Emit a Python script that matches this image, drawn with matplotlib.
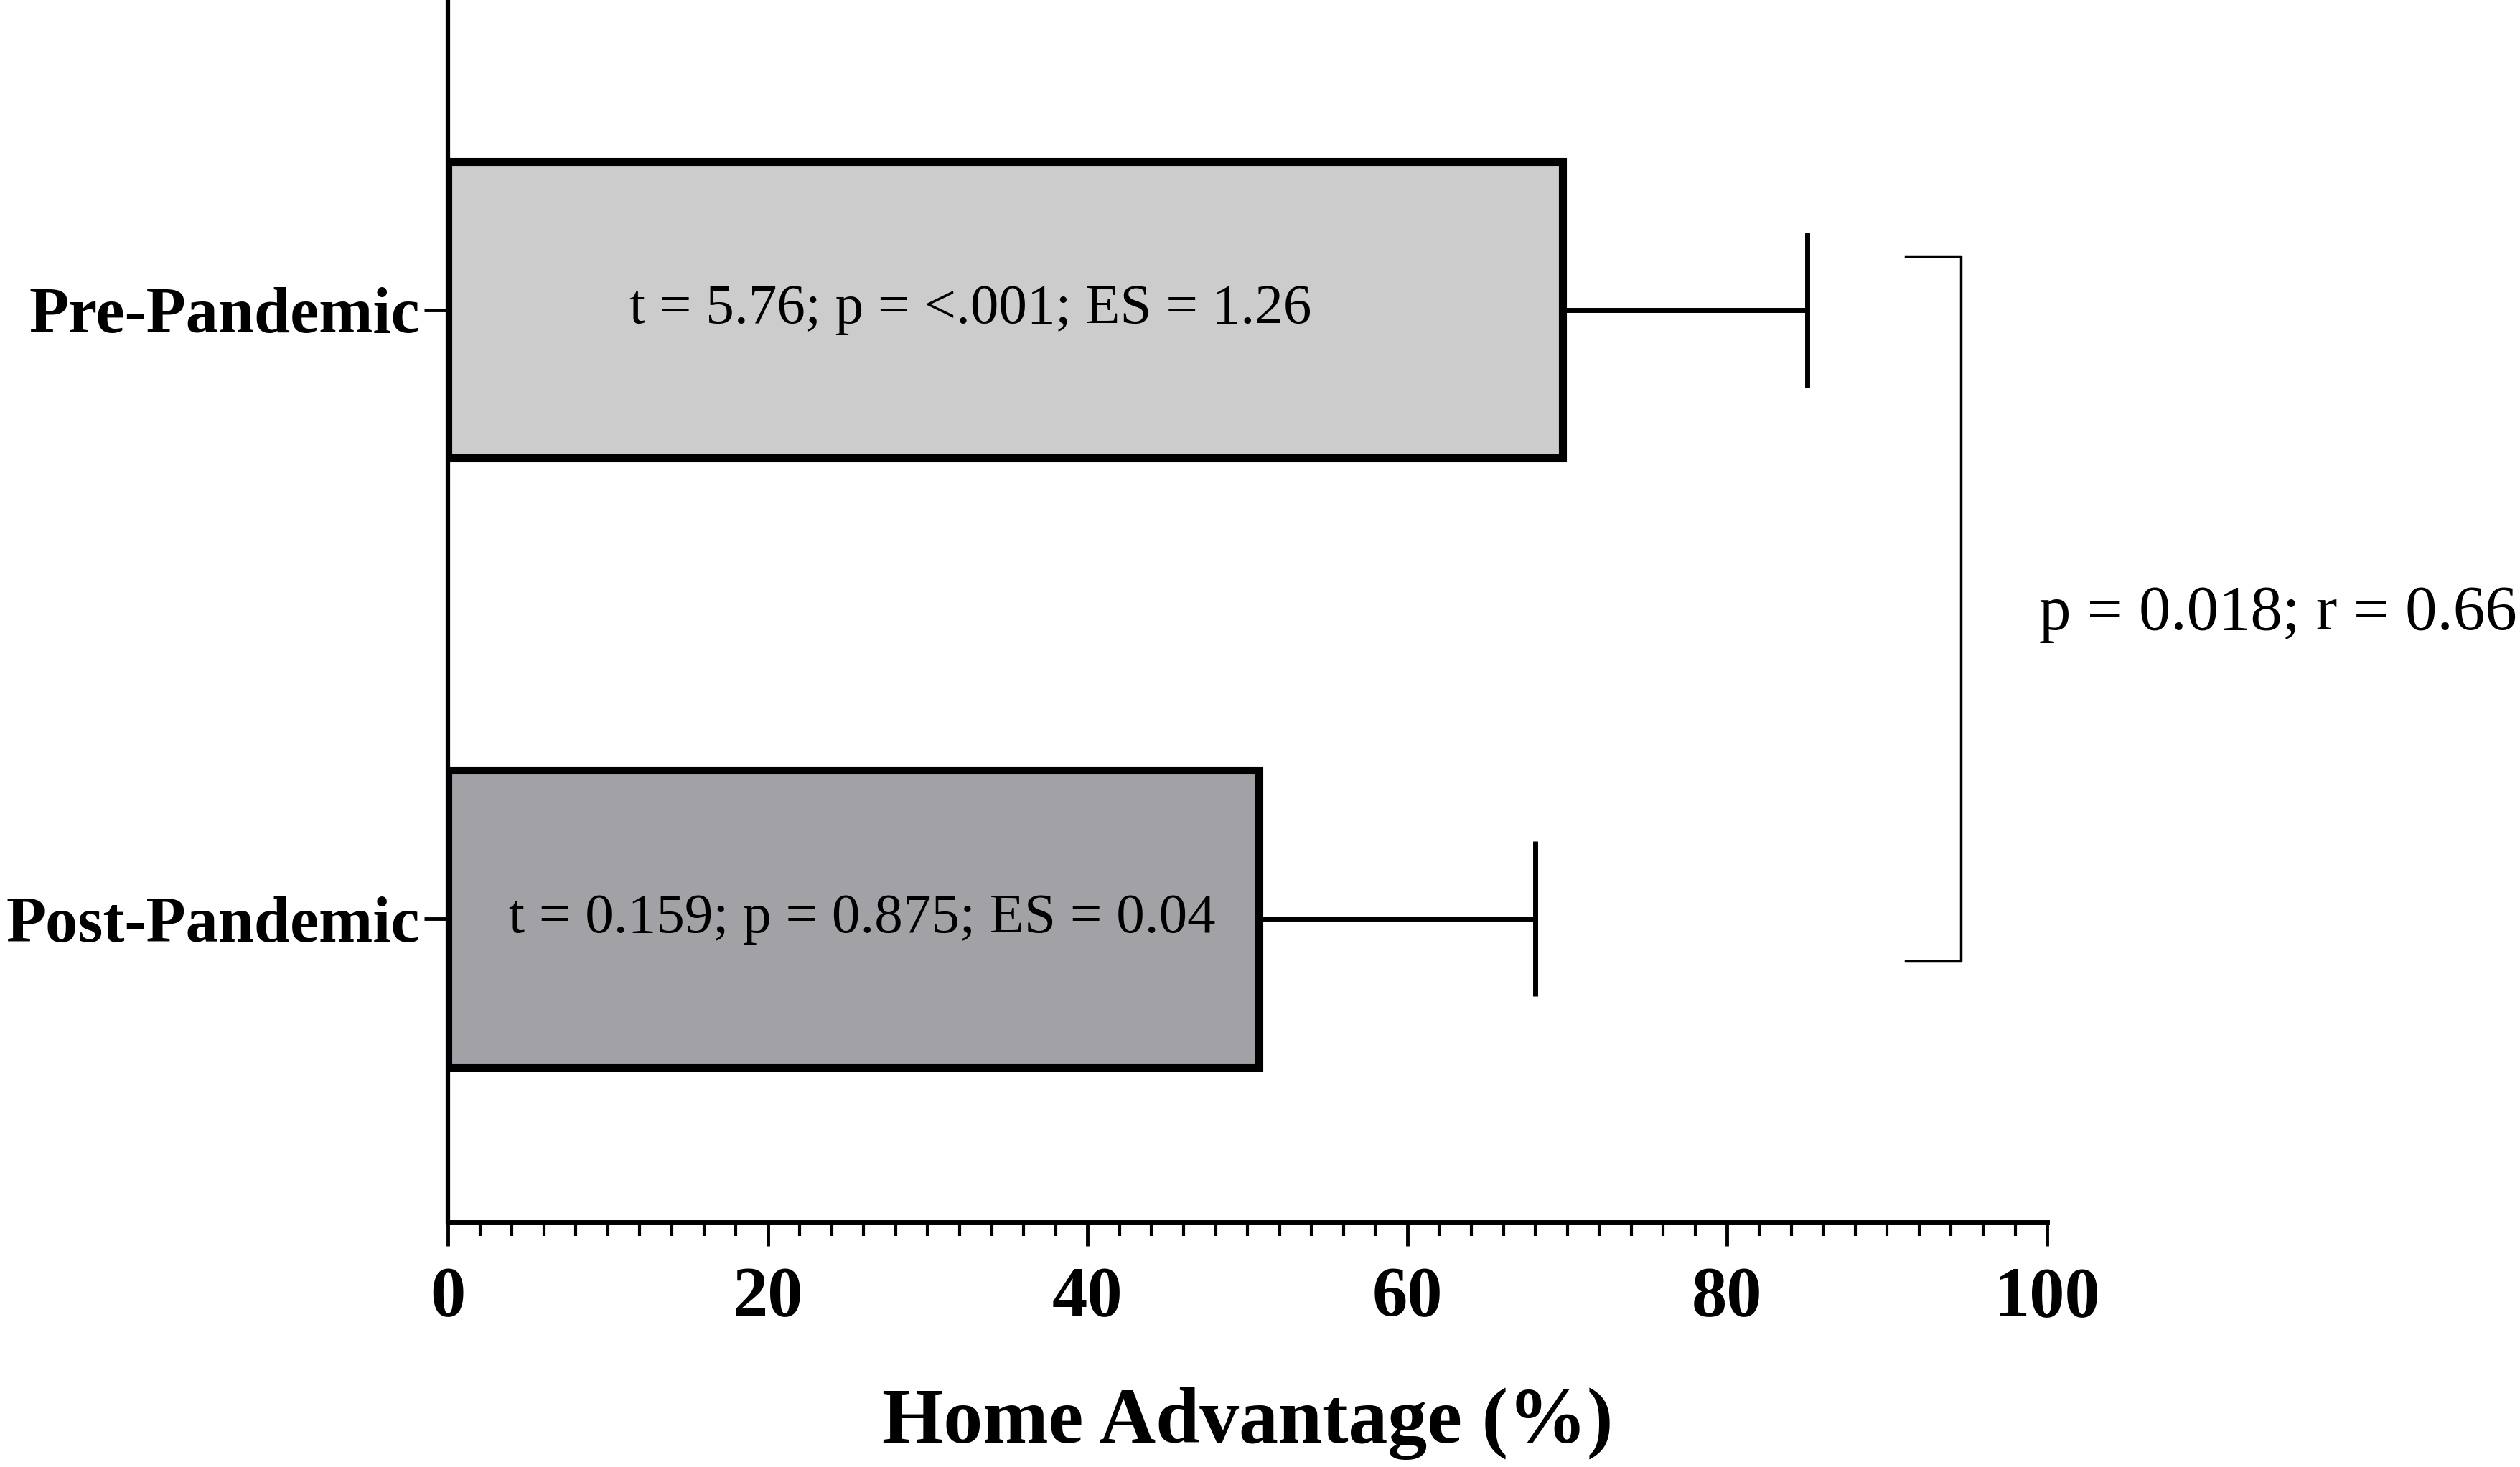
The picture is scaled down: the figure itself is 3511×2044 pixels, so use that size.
import numpy as np
import matplotlib
matplotlib.use("Agg")
import matplotlib.pyplot as plt
from matplotlib.ticker import MultipleLocator

# data
groups = ["Post-Pandemic", "Pre-Pandemic"]
home_adv = [50.7, 69.7]
sd_upper = [17.3, 15.3]
bar_colors = ["#a2a1a6", "#cccccc"]
stat_labels = ["t = 0.159; p = 0.875; ES = 0.04", "t = 5.76; p = <.001; ES = 1.26"]
stat_label_x = [25.9, 32.7]
compare_label = "p = 0.018; r = 0.66"
bracket_x = [91.15, 94.6]
bracket_y = [-0.07, 1.088]

plt.rcParams["font.family"] = ["Liberation Serif", "DejaVu Serif"]


def main():
    fig = plt.figure(figsize=(35.12, 20.44), dpi=100)
    ax = fig.add_axes([0.1777, 0.1668, 0.8121 - 0.1777, 1.0 - 0.1668])

    ypos = np.arange(len(groups))
    ax.barh(ypos, home_adv, height=0.487, color=bar_colors,
            edgecolor="black", linewidth=8, zorder=2)

    # one-sided error bars (right only)
    xerr = [np.zeros(len(sd_upper)), sd_upper]
    ax.errorbar(home_adv, ypos, xerr=xerr, fmt="none", ecolor="black",
                elinewidth=5, capsize=78, capthick=5, zorder=1)

    for i in range(len(groups)):
        ax.text(stat_label_x[i], ypos[i], stat_labels[i], ha="center",
                va="center", fontsize=57, zorder=3)

    # comparison bracket
    ax.plot([bracket_x[0], bracket_x[1], bracket_x[1], bracket_x[0]],
            [bracket_y[1], bracket_y[1], bracket_y[0], bracket_y[0]],
            color="black", linewidth=2.5, clip_on=False)
    ax.text(99.5, 0.5, compare_label, ha="left", va="center",
            fontsize=64, clip_on=False)

    ax.set_xlim(0, 100)
    ax.set_ylim(-0.4985, 1.5086)
    ax.xaxis.set_major_locator(MultipleLocator(20))
    ax.xaxis.set_minor_locator(MultipleLocator(2))
    ax.set_yticks(ypos)
    ax.set_yticklabels(groups)

    for lab in ax.get_xticklabels() + ax.get_yticklabels():
        lab.set_fontweight("bold")
    ax.tick_params(axis="x", which="major", length=24, width=3.5,
                   labelsize=71, pad=20)
    ax.tick_params(axis="x", which="minor", length=14, width=3)
    ax.tick_params(axis="y", which="major", length=24, width=3.5,
                   labelsize=65, pad=4)

    ax.spines["top"].set_visible(False)
    ax.spines["right"].set_visible(False)
    ax.spines["left"].set_linewidth(4.5)
    ax.spines["bottom"].set_linewidth(5)

    ax.set_xlabel("Home Advantage (%)", fontsize=79, fontweight="bold",
                  labelpad=57)

    fig.savefig("out.png", dpi=100)


if __name__ == "__main__":
    main()
